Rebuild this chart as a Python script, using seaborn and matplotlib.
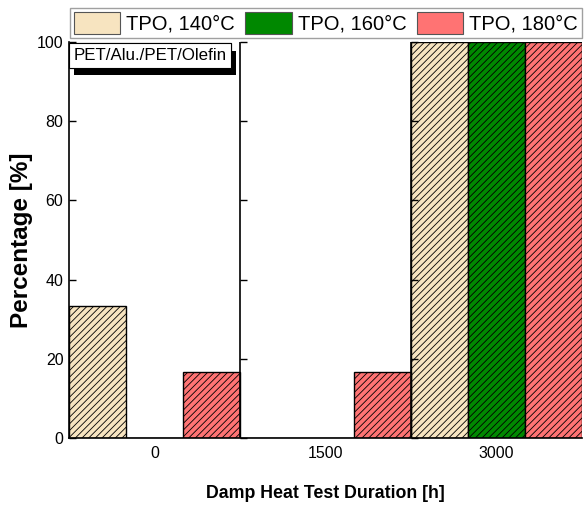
import matplotlib
matplotlib.use('Agg')
from matplotlib import pyplot as plt
from matplotlib.patches import Patch
import matplotlib.patheffects as pe
import seaborn as sns
import pandas as pd

durations = ['0', '1500', '3000']
series = ['TPO, 140°C', 'TPO, 160°C', 'TPO, 180°C']
tpo_140 = [33.3, 0, 100]
tpo_160 = [0, 0, 100]
tpo_180 = [16.7, 16.7, 100]
colors = ['#F7E4C0', '#008800', '#FF7373']
yticks = [0, 20, 40, 60, 80, 100]

data = pd.DataFrame({
    'duration': durations * 3,
    'series': [s for s in series for _ in durations],
    'value': tpo_140 + tpo_160 + tpo_180,
})

sns.set_style('ticks')
plt.rcParams['font.family'] = ['Liberation Sans', 'DejaVu Sans']
plt.rcParams['text.color'] = 'black'
plt.rcParams['axes.labelcolor'] = 'black'
plt.rcParams['xtick.color'] = 'black'
plt.rcParams['ytick.color'] = 'black'
plt.rcParams['hatch.linewidth'] = 0.6

fig = plt.figure(figsize=(5.84, 5.11), dpi=100)
ax = fig.add_axes([69 / 584, 1 - 438 / 511, 513 / 584, 396 / 511])

sns.barplot(data=data, x='duration', y='value', hue='series', order=durations,
            hue_order=series, palette=colors, width=1.0, dodge=True,
            edgecolor='black', linewidth=1.0, saturation=1, ax=ax, legend=False)

for p in ax.patches:
    p.set_hatch('/////')

ax.set_xlim(-0.5, 2.5)
ax.set_ylim(0, 100)
ax.set_yticks(yticks)

# group separators behave like extra left axes with inward ticks
for xs in [0.5, 1.5]:
    ax.axvline(xs, color='black', lw=1.2, zorder=5)
    ax.plot([xs] * len(yticks), yticks, ls='', marker=1, ms=5, mew=1,
            color='black', zorder=5, clip_on=False)

sns.despine(ax=ax, top=True, right=True)
for s in ['left', 'bottom']:
    ax.spines[s].set_linewidth(1.2)
    ax.spines[s].set_color('black')
ax.tick_params(axis='y', direction='in', length=5, width=1, labelsize=11.5, pad=4)
ax.tick_params(axis='x', length=0, labelsize=11.5, pad=6)

ax.set_xlabel('Damp Heat Test Duration [h]', fontsize=12.8, fontweight='bold', labelpad=17)
ax.set_ylabel('Percentage [%]', fontsize=17.5, fontweight='bold', labelpad=3)

t = ax.text(0.009, 0.985, 'PET/Alu./PET/Olefin', transform=ax.transAxes,
            ha='left', va='top', fontsize=12.2, zorder=10,
            bbox=dict(boxstyle='square,pad=0.28', facecolor='white',
                      edgecolor='black', linewidth=0.8))
t.get_bbox_patch().set_path_effects([
    pe.withSimplePatchShadow(offset=(3.6, -5.5), shadow_rgbFace='black', alpha=1.0),
    pe.Normal()])

handles = [Patch(facecolor=c, edgecolor='#555555', linewidth=0.8) for c in colors]
leg = fig.legend(handles, series, loc='lower left', ncol=3, mode='expand',
                 bbox_to_anchor=(70 / 584, 1 - 38 / 511, 512 / 584, 33 / 511),
                 fontsize=14.5, handlelength=2.3, handleheight=1.3,
                 handletextpad=0.3, columnspacing=0.0, borderpad=0.2,
                 borderaxespad=0, fancybox=False, frameon=True)
leg.get_frame().set_edgecolor('#888888')
leg.get_frame().set_linewidth(1.0)

fig.savefig('out.png', dpi=100)
